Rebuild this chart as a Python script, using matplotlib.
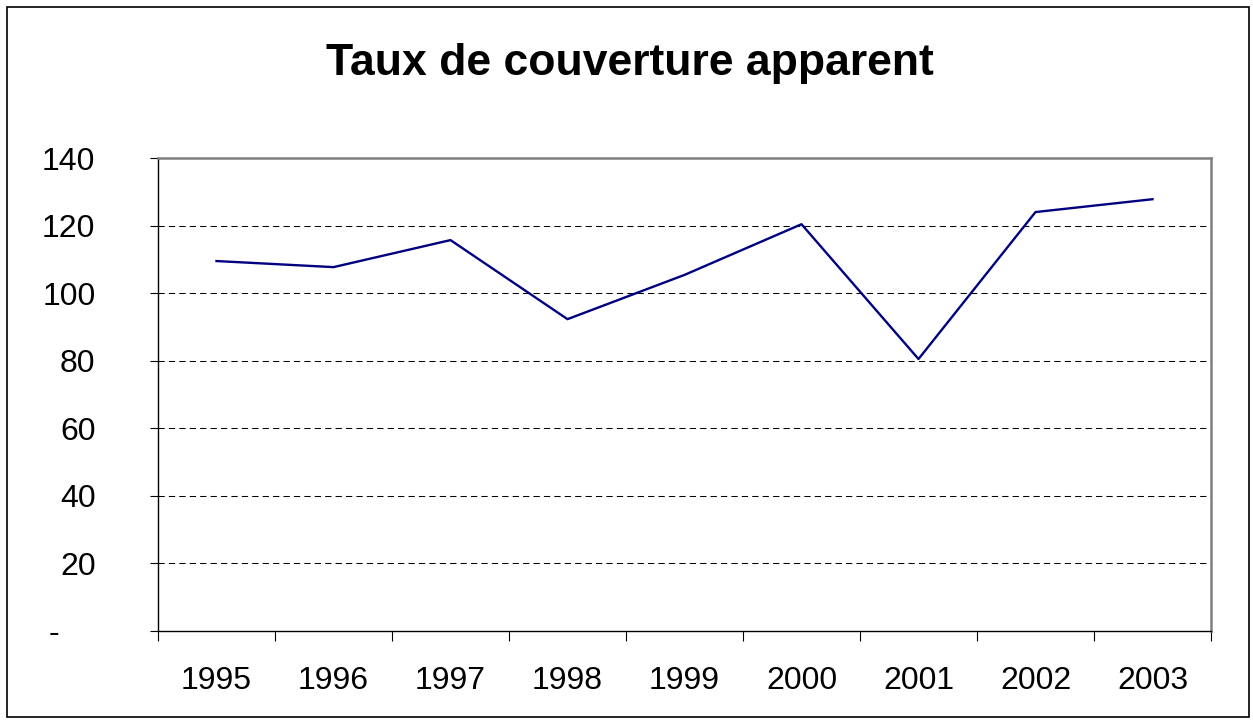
import matplotlib.pyplot as plt
from matplotlib.patches import Rectangle

plt.rcParams['font.family'] = ['Liberation Sans', 'DejaVu Sans']

years = ['1995', '1996', '1997', '1998', '1999', '2000', '2001', '2002', '2003']
taux = [109.5, 107.7, 115.7, 92.3, 105.4, 120.4, 80.5, 124.0, 127.8]
y_ticks = [0, 20, 40, 60, 80, 100, 120, 140]
y_labels = ['-    ', '20', '40', '60', '80', '100', '120', '140']

fig = plt.figure(figsize=(12.53, 7.2), dpi=100)
ax = fig.add_axes([158 / 1253, 89 / 720, 1053 / 1253, 473 / 720])

x = list(range(len(years)))
ax.plot(x, taux, color='#000080', lw=1.7, zorder=3)

ax.set_xlim(-0.5, len(years) - 0.5)
ax.set_ylim(0, 140)

# gridlines (skip 0 and 140, those are the frame)
for v in y_ticks[1:-1]:
    ax.axhline(v, color='black', lw=0.75, ls=(0, (6, 4)), zorder=1)

ax.set_yticks(y_ticks)
ax.set_yticklabels(y_labels)
ax.tick_params(axis='y', length=6, width=0.8, direction='out', pad=39, labelsize=23)

ax.set_xticks([i - 0.5 for i in range(len(years) + 1)])
ax.set_xticklabels([])
ax.set_xticks(x, minor=True)
ax.set_xticklabels(years, minor=True)
ax.tick_params(axis='x', which='major', length=7, width=0.8, direction='out')
ax.tick_params(axis='x', which='minor', length=0, pad=25, labelsize=23)

for side in ['left', 'bottom']:
    ax.spines[side].set_color('black')
    ax.spines[side].set_linewidth(1.0)
for side in ['top', 'right']:
    ax.spines[side].set_color('#808080')
    ax.spines[side].set_linewidth(1.8)

fig.text(630 / 1253, 1 - 63 / 720, 'Taux de couverture apparent', ha='center', va='center',
         fontsize=32, fontweight='bold')

fig.patches.append(Rectangle((7 / 1253, 3 / 720), 1242 / 1253, 710 / 720, transform=fig.transFigure,
                             fill=False, edgecolor='black', lw=1.2))

fig.savefig('out.png', dpi=100)
